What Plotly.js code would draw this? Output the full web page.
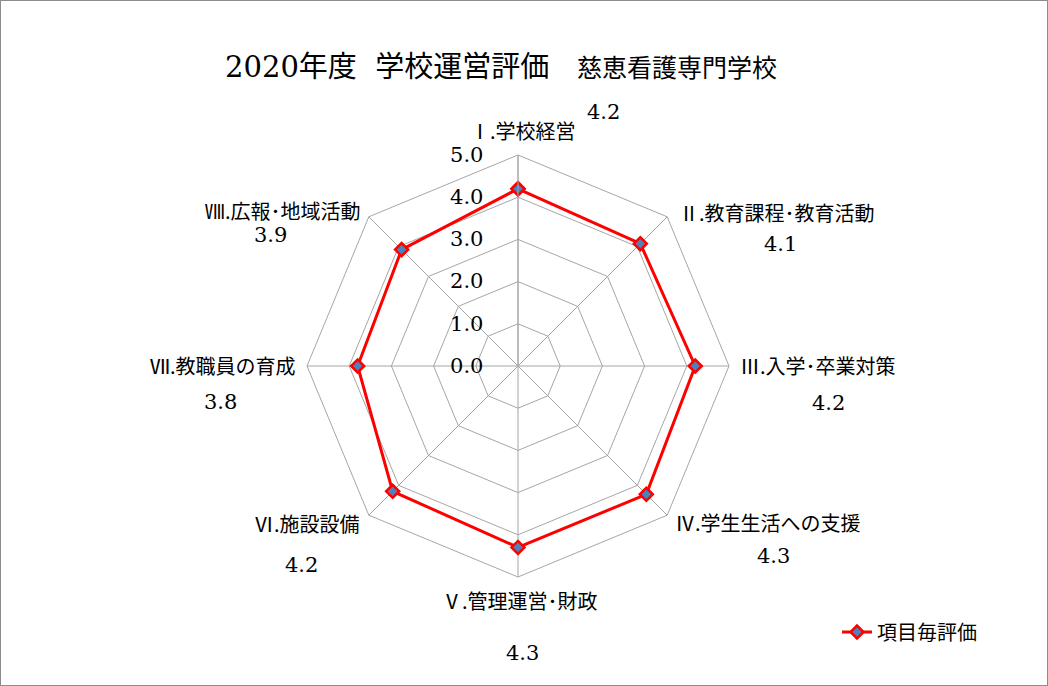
<!DOCTYPE html>
<html><head><meta charset="utf-8">
<script src="https://cdn.plot.ly/plotly-3.0.1.min.js"></script>
<style>
html,body{margin:0;padding:0;background:#fff;}
#wrap{width:1048px;height:686px;box-sizing:border-box;border:1px solid #8c8c8c;}
#chart{width:1046px;height:684px;}
</style></head>
<body><div id="wrap"><div id="chart"></div></div>
<script>
const categories = ["Ⅰ.学校経営","Ⅱ.教育課程･教育活動","Ⅲ.入学･卒業対策","Ⅳ.学生生活への支援","Ⅴ.管理運営･財政","Ⅵ.施設設備","Ⅶ.教職員の育成","Ⅷ.広報･地域活動"];
const values = [4.2, 4.1, 4.2, 4.3, 4.3, 4.2, 3.8, 3.9];
const seriesName = "項目毎評価";
const radialTicks = [0,1,2,3,4,5];
const titleYear = "2020";
const titleMain = "年度&nbsp;&nbsp;学校運営評価";
const titleSub = "慈恵看護専門学校";

const W = 1046, H = 684;
function px(x){ return (x-1)/W; }
function py(y){ return 1-(y-1)/H; }
// label placements (layout only): [x, y, xanchor]
const catPos = [[523,131,'center'],[677,212,'left'],[738,366,'left'],[673,522,'left'],[520,600,'center'],[362,523,'right'],[298,366,'right'],[363,210,'right']];
const valuePos = [[603,112],[780,244],[828,403],[773,556],[522,653],[301,565],[220,402],[270,235]];

const numFont = '"DejaVu Serif", "Noto Sans CJK JP", serif';
const jpFont = '"DejaVu Serif", "Noto Sans CJK JP", serif';
const grid = '#a6a6a6';

const trace = {
  type:'scatterpolar',
  r: values.concat([values[0]]),
  theta: categories.concat([categories[0]]),
  mode:'lines+markers',
  name: seriesName,
  line:{color:'#ff0000', width:3},
  marker:{symbol:'diamond', size:10, color:'#4f81bd', line:{color:'#ff0000', width:2.5}},
  showlegend:true,
  hoverinfo:'r+theta'
};

const annotations = [];
categories.forEach((c,i)=>annotations.push({
  text: c, x: px(catPos[i][0]), y: py(catPos[i][1]),
  xref:'paper', yref:'paper', xanchor:catPos[i][2], yanchor:'middle', showarrow:false,
  font:{family:'"Noto Sans CJK JP", sans-serif', size:20, color:'#000'}
}));
values.forEach((v,i)=>annotations.push({
  text: v.toFixed(1), x: px(valuePos[i][0]), y: py(valuePos[i][1]),
  xref:'paper', yref:'paper', xanchor:'center', yanchor:'middle', showarrow:false,
  font:{family:numFont, size:21, color:'#000'}
}));

const layout = {
  width:W, height:H,
  margin:{l:0,r:0,t:0,b:0},
  paper_bgcolor:'#fff',
  font:{family:numFont, color:'#000'},
  title:{
    text: titleYear + titleMain + '&nbsp;&nbsp;&nbsp;<span style="font-size:25px">' + titleSub + '</span>',
    x: px(501), xanchor:'center', y: py(67), yanchor:'middle',
    font:{family:jpFont, size:29, color:'#000'}
  },
  polar:{
    domain:{x:[px(307), px(729)], y:[py(577), py(155)]},
    bgcolor:'rgba(0,0,0,0)',
    gridshape:'linear',
    radialaxis:{
      range:[0,5], tickvals: radialTicks, ticktext: radialTicks.map(t=>t.toFixed(1) + '&nbsp;&nbsp;&nbsp;&nbsp;'),
      angle:90, tickangle:90, side:'counterclockwise',
      showline:true, linecolor:grid, linewidth:1, gridcolor:grid, gridwidth:1,
      ticks:'', tickfont:{family:numFont, size:21, color:'#000'}
    },
    angularaxis:{
      rotation:90, direction:'clockwise', showticklabels:false,
      showline:true, linecolor:grid, linewidth:1, gridcolor:grid, gridwidth:1,
      ticks:''
    }
  },
  legend:{
    x: px(837), y: py(632), xanchor:'left', yanchor:'middle',
    font:{family:'"Noto Sans CJK JP", sans-serif', size:20, color:'#000'},
    bgcolor:'rgba(0,0,0,0)'
  },
  annotations: annotations
};

Plotly.newPlot('chart',[trace],layout,{displayModeBar:false, staticPlot:true});
</script></body></html>
